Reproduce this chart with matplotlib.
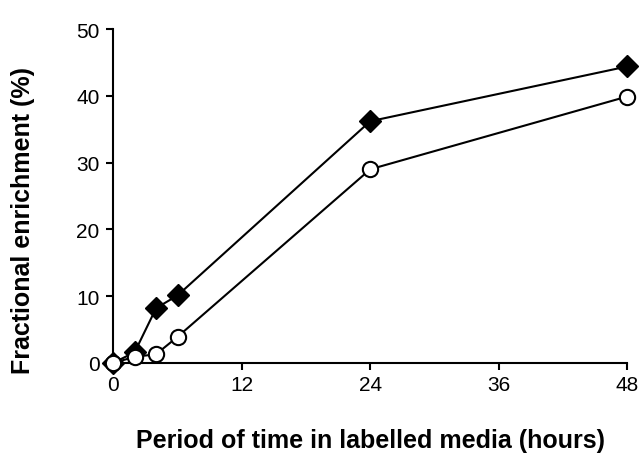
import matplotlib
matplotlib.use("Agg")
import matplotlib.pyplot as plt

plt.rcParams['font.family'] = ['Liberation Sans', 'DejaVu Sans']

# time points (hours) and fractional enrichment (%)
hours = [0, 2, 4, 6, 24, 48]
filled_series = [0, 1.6, 8.2, 10.1, 36.2, 44.4]
open_series = [0, 0.9, 1.3, 3.9, 29.0, 39.9]
x_ticks = [0, 12, 24, 36, 48]
y_ticks = [0, 10, 20, 30, 40, 50]

fig = plt.figure(figsize=(6.4, 4.56), dpi=100)
ax = fig.add_axes([0.177, 0.202, 0.803, 0.732])

ax.plot(hours, open_series, color='black', lw=1.5, marker='o', ms=11,
        mfc='white', mec='black', mew=1.5, clip_on=False, zorder=3)
ax.plot(hours, filled_series, color='black', lw=1.5, marker='D', ms=11.5,
        mfc='black', mec='black', clip_on=False, zorder=2)

ax.set_xlim(0, 48)
ax.set_ylim(0, 50)
ax.set_xticks(x_ticks)
ax.set_yticks(y_ticks)
ax.spines['top'].set_visible(False)
ax.spines['right'].set_visible(False)
for s in ('left', 'bottom'):
    ax.spines[s].set_linewidth(1.5)
ax.tick_params(direction='out', length=5, width=1.5, labelsize=15)
ax.tick_params(axis='x', pad=4)
ax.tick_params(axis='y', pad=5)

ax.set_xlabel("Period of time in labelled media (hours)", fontsize=18,
              fontweight='bold', labelpad=24)
ax.set_ylabel("Fractional enrichment (%)", fontsize=18, fontweight='bold')
ax.yaxis.set_label_coords(-0.152, 0.43)

fig.savefig("out.png", dpi=100)
